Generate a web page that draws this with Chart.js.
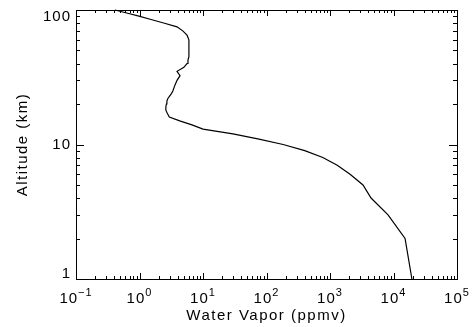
<!DOCTYPE html>
<html>
<head>
<meta charset="utf-8">
<script src="https://cdn.jsdelivr.net/npm/chart.js@4/dist/chart.umd.min.js"></script>
<style>
  html, body { margin: 0; padding: 0; background: #fff; }
  #wrap { width: 472px; height: 327px; }
</style>
</head>
<body>
<div id="wrap"><canvas id="chart" width="472" height="327"></canvas></div>
<script>
// altitude grid (km) and water vapour mixing ratio (ppmv)
const altitude = [1, 2, 3, 4, 5, 6, 7, 8, 9, 10, 11, 12, 13, 14, 15, 16, 17, 18, 19, 20,
    21, 22, 23, 24, 25, 27.5, 30, 32.5, 35, 37.5, 40, 42.5, 45, 50, 55, 60, 65, 70, 75,
    80, 85, 90, 95, 100];
const vapor = [19500, 15200, 8200, 4430, 3310, 2070, 1300, 770, 400, 183, 73, 29.6, 10,
    6.7, 4.3, 2.95, 2.75, 2.6, 2.6, 2.65, 2.7, 2.8, 3.0, 3.2, 3.35, 3.6, 3.9, 4.35, 3.9,
    5.0, 5.6, 5.8, 6.0, 6.0, 6.0, 6.0, 5.6, 4.8, 3.9, 2.4, 1.52, 0.98, 0.63, 0.41];

const xTicks = [-1, 0, 1, 2, 3, 4, 5];   // exponents of 10
const yTicks = [1, 10, 100];

const xTitle = 'Water Vapor (ppmv)';
const yTitle = 'Altitude (km)';

const FONT = '15px "Liberation Sans", Arial, sans-serif';
const SUP_FONT = '11px "Liberation Sans", Arial, sans-serif';

const points = altitude.map((a, i) => ({ x: vapor[i], y: a }));

// IDL-like frame: inward ticks on all four sides, labels drawn by hand
const frame = {
    id: 'frame',
    afterDraw(chart) {
        const ctx = chart.ctx;
        const area = chart.chartArea;
        const xs = chart.scales.x;
        const ys = chart.scales.y;
        ctx.save();
        ctx.strokeStyle = '#000';
        ctx.lineWidth = 1;
        ctx.strokeRect(Math.round(area.left) + 0.5, Math.round(area.top) + 0.5,
            Math.round(area.right - area.left), Math.round(area.bottom - area.top));

        ctx.beginPath();
        for (let e = -1; e <= 5; e++) {
            for (let m = 1; m <= 9; m++) {
                const v = m * Math.pow(10, e);
                if (v > 1e5) break;
                const px = Math.round(xs.getPixelForValue(v)) + 0.5;
                const len = m === 1 ? 6 : 3;
                ctx.moveTo(px, area.bottom); ctx.lineTo(px, area.bottom - len);
                ctx.moveTo(px, area.top); ctx.lineTo(px, area.top + len);
            }
        }
        for (let e = 0; e <= 2; e++) {
            for (let m = 1; m <= 9; m++) {
                const v = m * Math.pow(10, e);
                if (v > 100) break;
                const py = Math.round(ys.getPixelForValue(v)) + 0.5;
                const len = m === 1 ? 8 : 4;
                ctx.moveTo(area.left, py); ctx.lineTo(area.left + len, py);
                ctx.moveTo(area.right, py); ctx.lineTo(area.right - len, py);
            }
        }
        ctx.stroke();

        ctx.fillStyle = '#000';
        ctx.letterSpacing = '1px';

        // x tick labels 10^n
        xTicks.forEach(e => {
            const px = xs.getPixelForValue(Math.pow(10, e));
            const exp = e < 0 ? '\u2212' + (-e) : String(e);
            ctx.font = FONT;
            const wb = ctx.measureText('10').width;
            ctx.font = SUP_FONT;
            const we = ctx.measureText(exp).width;
            const x0 = px - (wb + we) / 2;
            ctx.textAlign = 'left';
            ctx.textBaseline = 'alphabetic';
            ctx.font = FONT;
            ctx.fillText('10', x0, area.bottom + 24);
            ctx.font = SUP_FONT;
            ctx.fillText(exp, x0 + wb, area.bottom + 17);
        });

        // y tick labels
        ctx.font = FONT;
        ctx.textAlign = 'right';
        ctx.textBaseline = 'middle';
        yTicks.forEach(v => {
            let py = ys.getPixelForValue(v);
            py = Math.min(Math.max(py, area.top + 7), area.bottom - 5);
            ctx.fillText(String(v), area.left - 5, py);
        });

        // axis titles
        ctx.letterSpacing = '1.5px';
        ctx.textAlign = 'center';
        ctx.textBaseline = 'alphabetic';
        ctx.fillText(xTitle, (area.left + area.right) / 2, area.bottom + 41);
        ctx.save();
        ctx.translate(27, (area.top + area.bottom) / 2);
        ctx.rotate(-Math.PI / 2);
        ctx.fillText(yTitle, 0, 0);
        ctx.restore();
        ctx.restore();
    }
};

new Chart(document.getElementById('chart'), {
    type: 'scatter',
    data: {
        datasets: [{
            data: points,
            showLine: true,
            borderColor: '#000',
            borderWidth: 1.2,
            pointRadius: 0,
            tension: 0,
            clip: false
        }]
    },
    options: {
        responsive: false,
        animation: false,
        devicePixelRatio: 1,
        layout: { padding: { left: 76, top: 10, right: 15, bottom: 48 } },
        plugins: { legend: { display: false }, tooltip: { enabled: false } },
        scales: {
            x: { type: 'logarithmic', min: 0.1, max: 1e5, display: false },
            y: { type: 'logarithmic', min: 1, max: 100, display: false }
        }
    },
    plugins: [frame]
});
</script>
</body>
</html>
